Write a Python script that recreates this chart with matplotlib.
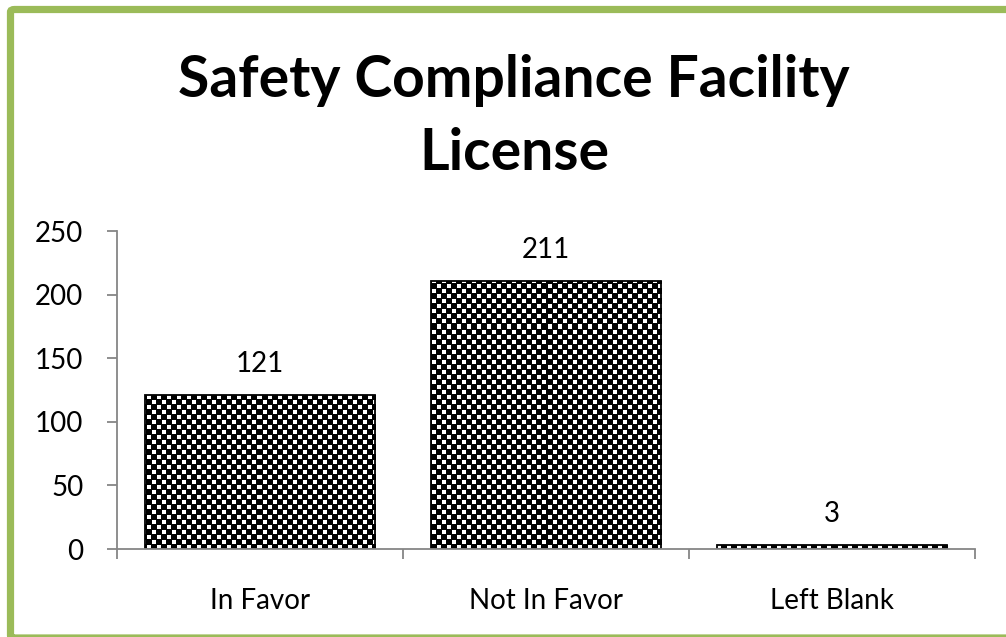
import numpy as np
import matplotlib
matplotlib.use("Agg")
import matplotlib.pyplot as plt
from matplotlib.patches import FancyBboxPatch
from matplotlib.ticker import FixedLocator

categories = ["In Favor", "Not In Favor", "Left Blank"]
values = [121, 211, 3]
yticks = [0, 50, 100, 150, 200, 250]
title = "Safety Compliance Facility\nLicense"

plt.rcParams['font.family'] = ['Lato', 'DejaVu Sans']

W, H = 1006, 637
fig = plt.figure(figsize=(W / 100, H / 100), dpi=100)
fig.patch.set_facecolor("white")

# green border (right side runs off the canvas)
border = FancyBboxPatch((10.5 / W, 1 - 638 / H), (1015 - 10.5) / W, (638 - 9.5) / H,
                        boxstyle="round,pad=0,rounding_size=0.004",
                        transform=fig.transFigure, fill=False,
                        edgecolor="#9BBB59", linewidth=5.2, clip_on=False)
fig.patches.append(border)

ax = fig.add_axes([117 / W, 1 - 549 / H, (975 - 117) / W, (549 - 231) / H])
x = np.arange(len(categories))
bars = ax.bar(x, values, width=0.805, facecolor="none", edgecolor="black",
              linewidth=1.3, zorder=3)

# checkerboard texture (black dominant) clipped to each bar
px_w, px_h = 975 - 117, 549 - 231
ii, jj = np.indices((px_h, px_w))
period = 10
a, b = ii % period, jj % period
white = ((a < 4) & (b < 4)) | ((a >= 5) & (a < 9) & (b >= 5) & (b < 9))
checker = white.astype(float)
for bar in bars:
    im = ax.imshow(checker, cmap="gray", vmin=0, vmax=1, interpolation="nearest",
                   extent=(-0.5, len(categories) - 0.5, 0, 250), aspect="auto",
                   zorder=2, origin="lower")
    im.set_clip_path(bar)
ax.set_xlim(-0.5, len(categories) - 0.5)
ax.set_ylim(0, 250)

for xi, v in zip(x, values):
    ax.annotate(str(v), (xi, v), xytext=(0, 13), textcoords="offset points",
                ha="center", va="bottom", fontsize=20, color="black")

for s in ["top", "right"]:
    ax.spines[s].set_visible(False)
for s in ["left", "bottom"]:
    ax.spines[s].set_color("#868686")
    ax.spines[s].set_linewidth(1.3)
    ax.spines[s].set_zorder(4)

ax.set_yticks(yticks)
ax.set_yticklabels([str(t) for t in yticks])
ax.tick_params(axis="y", direction="out", length=7.2, width=1.3, color="#868686",
               pad=17, labelsize=20, labelcolor="black")
ax.set_xticks(x)
ax.set_xticklabels(categories)
ax.xaxis.set_minor_locator(FixedLocator(np.arange(-0.5, len(categories), 1.0)))
ax.tick_params(axis="x", which="major", length=0, pad=28, labelsize=20,
               labelcolor="black")
ax.tick_params(axis="x", which="minor", direction="out", length=7.2, width=1.3,
               color="#868686")

fig.text(514 / W, 1 - 117 / H, title, ha="center", va="center", fontsize=41,
         fontweight="bold", linespacing=1.45, color="black")

fig.savefig("out.png", dpi=100, facecolor="white")
